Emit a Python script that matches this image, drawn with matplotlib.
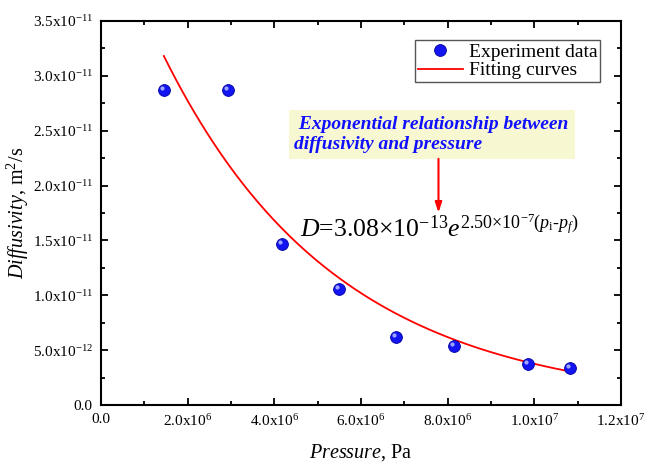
import numpy as np
import matplotlib
matplotlib.use("Agg")
import matplotlib.pyplot as plt
import matplotlib.transforms as mtransforms

plt.rcParams['font.family'] = ['Liberation Serif', 'DejaVu Serif']
plt.rcParams['mathtext.fontset'] = 'custom'
plt.rcParams['mathtext.rm'] = 'Liberation Serif'
plt.rcParams['mathtext.it'] = 'Liberation Serif:italic'
plt.rcParams['mathtext.bf'] = 'Liberation Serif:bold'

# experiment data
pressure = [1.45e6, 2.93e6, 4.18e6, 5.49e6, 6.80e6, 8.14e6, 9.86e6, 1.083e7]
diffusivity = [2.87e-11, 2.87e-11, 1.465e-11, 1.055e-11, 6.2e-12, 5.4e-12, 3.7e-12, 3.35e-12]

# fitting curve parameters: D = d0 * exp(k * (p_i - p))
fit_d0 = 3.08e-13
fit_k = 2.50e-7
fit_pi = 2.0e7

xticks = [0, 2e6, 4e6, 6e6, 8e6, 1e7, 1.2e7]
xticklabels = ['0.0', r'$2.0{\rm x}10^{6}$', r'$4.0{\rm x}10^{6}$', r'$6.0{\rm x}10^{6}$',
               r'$8.0{\rm x}10^{6}$', r'$1.0{\rm x}10^{7}$', r'$1.2{\rm x}10^{7}$']
yticks = [0, 5e-12, 1e-11, 1.5e-11, 2e-11, 2.5e-11, 3e-11, 3.5e-11]
yticklabels = ['0.0', r'$5.0{\rm x}10^{-12}$', r'$1.0{\rm x}10^{-11}$', r'$1.5{\rm x}10^{-11}$',
               r'$2.0{\rm x}10^{-11}$', r'$2.5{\rm x}10^{-11}$', r'$3.0{\rm x}10^{-11}$',
               r'$3.5{\rm x}10^{-11}$']

fig = plt.figure(figsize=(6.47, 4.62), dpi=100)
ax = fig.add_axes([101 / 647, 1 - 405 / 462, 520 / 647, 384 / 462])

# 1. data points, drawn as shaded blue spheres
pts, = ax.plot(pressure, diffusivity, 'o', color='#1414f0', markeredgecolor='#0000a0',
               markeredgewidth=0.6, markersize=8.5, label='Experiment data', zorder=3)
hl = ax.transData + mtransforms.ScaledTranslation(-1.5 / 72, 1.5 / 72, fig.dpi_scale_trans)
ax.plot(pressure, diffusivity, 'o', color='#9fa8ff', markeredgewidth=0, markersize=3,
        transform=hl, zorder=4)

# 2. fitted exponential
p_fit = np.linspace(min(pressure), max(pressure), 200)
d_fit = fit_d0 * np.exp(fit_k * (fit_pi - p_fit))
fit_line, = ax.plot(p_fit, d_fit, color='red', lw=1.3, label='Fitting curves', zorder=2)

# 3. axes
ax.set_xlim(0, 1.2e7)
ax.set_ylim(0, 3.5e-11)
ax.set_xticks(xticks)
ax.set_xticklabels(xticklabels, fontsize=11)
ax.set_yticks(yticks)
ax.set_yticklabels(yticklabels, fontsize=11)
ax.set_xticks(np.arange(1e6, 1.2e7, 2e6), minor=True)
ax.set_yticks(np.arange(2.5e-12, 3.5e-11, 5e-12), minor=True)
ax.tick_params(which='both', direction='in', top=True, right=True, width=1.3)
ax.tick_params(which='major', length=5, pad=6)
ax.tick_params(which='minor', length=3)
for s in ax.spines.values():
    s.set_linewidth(1.5)

ax.set_xlabel(r'$\mathit{Pressure}$, Pa', fontsize=14.5, labelpad=9)
ax.set_ylabel(r'$\mathit{Diffusivity}$, m$^2$/s', fontsize=14.5, labelpad=1)

ax.legend([pts, fit_line], ['Experiment data', 'Fitting curves'],
          loc='upper right', bbox_to_anchor=(0.96, 0.95), borderaxespad=0,
          fontsize=14, fancybox=False, edgecolor='#555555', framealpha=1,
          handlelength=2.3, borderpad=0.15, labelspacing=0.05, handletextpad=0.3)

# 4. annotation
ax.text(0.372, 0.752, ' Exponential relationship between\ndiffusivity and pressure',
        transform=ax.transAxes, ha='left', va='top', fontsize=14, color='#1010ff',
        fontweight='bold', fontstyle='italic', linespacing=1.25,
        bbox=dict(boxstyle='square,pad=0.3', facecolor='#f7f7d2', edgecolor='none'))

ax.annotate('', xy=(0.649, 0.501), xytext=(0.649, 0.641), xycoords='axes fraction',
            arrowprops=dict(arrowstyle='-|>,head_length=0.6,head_width=0.2',
                            color='red', lw=1.5, shrinkA=0, shrinkB=0))

ax.text(0.383, 0.4375,
        r'$\mathit{D}$=3.08$\times$10$^{-13}$'
        r'$\mathit{e}^{2.50{\times}10^{-7}(\mathit{p}_{\rm i}\text{-}\mathit{p}_{\mathit{f}})}$',
        transform=ax.transAxes, ha='left', va='baseline', fontsize=18.5)

fig.savefig('out.png', dpi=100)
